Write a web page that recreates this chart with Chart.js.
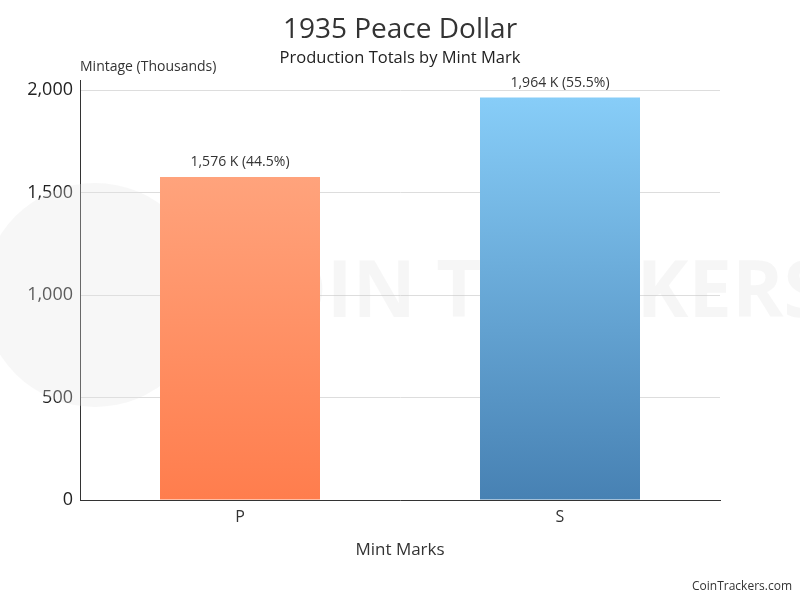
<!DOCTYPE html>
<html>
<head>
<meta charset="utf-8">
<script src="https://cdn.jsdelivr.net/npm/chart.js@4/dist/chart.umd.min.js"></script>
<style>
  html, body { margin: 0; padding: 0; background: #fff; }
  #wrap { width: 800px; height: 600px; }
</style>
</head>
<body>
<div id="wrap"><canvas id="myChart" width="800" height="600"></canvas></div>
<script>
const mintMarks = ['P', 'S'];
const mintage = [1576, 1964];
const shares = ['44.5%', '55.5%'];
const yTicks = [0, 500, 1000, 1500, 2000];
const topColors = ['#ffa37c', '#87cdf8'];
const bottomColors = ['#ff7d4d', '#4781b3'];

const FONT = "'Open Sans', sans-serif";

const gradientFill = (ctx) => {
    const chart = ctx.chart;
    const area = chart.chartArea;
    const ys = chart.scales.y;
    if (!area || !ys) return topColors[ctx.dataIndex];
    const top = ys.getPixelForValue(mintage[ctx.dataIndex]);
    if (!isFinite(top) || !isFinite(area.bottom)) return topColors[ctx.dataIndex];
    const g = chart.ctx.createLinearGradient(0, top, 0, area.bottom);
    g.addColorStop(0, topColors[ctx.dataIndex]);
    g.addColorStop(1, bottomColors[ctx.dataIndex]);
    return g;
};

// faint watermark behind the plot
const watermark = {
    id: 'watermark',
    beforeDatasetsDraw(chart) {
        const c = chart.ctx;
        c.save();
        c.fillStyle = 'rgba(230,230,230,0.3)';
        c.beginPath();
        c.arc(95, 295, 112, 0, Math.PI * 2);
        c.fill();
        c.fillStyle = 'rgba(200,200,200,0.17)';
        c.font = "bold 78px 'Open Sans', sans-serif";
        c.textBaseline = 'middle';
        c.fillText('COIN TRACKERS', 215, 295);
        c.restore();
    }
};

const extraText = {
    id: 'extraText',
    afterDatasetsDraw(chart) {
        const c = chart.ctx;
        const meta = chart.getDatasetMeta(0);
        c.save();
        c.textAlign = 'center';
        c.textBaseline = 'middle';
        c.fillStyle = '#333';
        c.font = '28px ' + FONT;
        c.fillText('1935 Peace Dollar', 400, 30);
        c.fillStyle = '#222';
        c.font = '16.5px ' + FONT;
        c.fillText('Production Totals by Mint Mark', 400, 58);

        c.fillStyle = '#333';
        c.font = '14px ' + FONT;
        c.textBaseline = 'bottom';
        meta.data.forEach((bar, i) => {
            c.fillText(mintage[i].toLocaleString('en-US') + ' K (' + shares[i] + ')', bar.x, bar.y - 8);
        });
        c.textAlign = 'left';
        c.textBaseline = 'middle';
        c.font = '14px ' + FONT;
        c.fillText('Mintage (Thousands)', chart.chartArea.left, 67);
        c.textAlign = 'right';
        c.font = '12px ' + FONT;
        c.fillText('CoinTrackers.com', 792, 587);
        c.restore();
    }
};

new Chart(document.getElementById('myChart'), {
    type: 'bar',
    data: {
        labels: mintMarks,
        datasets: [{
            data: mintage,
            backgroundColor: gradientFill,
            borderWidth: 0,
            barPercentage: 0.5,
            categoryPercentage: 1
        }]
    },
    options: {
        responsive: false,
        animation: false,
        layout: { padding: { top: 80, right: 80, bottom: 40, left: 0 } },
        plugins: {
            legend: { display: false },
            tooltip: { enabled: false }
        },
        scales: {
            x: {
                grid: { display: false, drawTicks: false },
                border: { color: '#333', width: 1 },
                ticks: { color: '#333', font: { family: FONT, size: 16 }, padding: 8 },
                title: {
                    display: true,
                    text: 'Mint Marks',
                    color: '#333',
                    font: { family: FONT, size: 17 },
                    padding: { top: 3, bottom: 0 }
                },
                afterFit(scale) { scale.height = 60; }
            },
            y: {
                min: 0,
                max: 2050,
                grid: { color: '#dddddd', drawTicks: false },
                border: { color: '#333', width: 1 },
                ticks: {
                    stepSize: 500,
                    color: '#222',
                    padding: 7,
                    font: { family: FONT, size: 18 },
                    callback: (v) => v.toLocaleString('en-US')
                },
                afterBuildTicks(scale) {
                    scale.ticks = yTicks.map(v => ({ value: v }));
                },
                afterFit(scale) { scale.width = 80; }
            }
        }
    },
    plugins: [watermark, extraText]
});
</script>
</body>
</html>
